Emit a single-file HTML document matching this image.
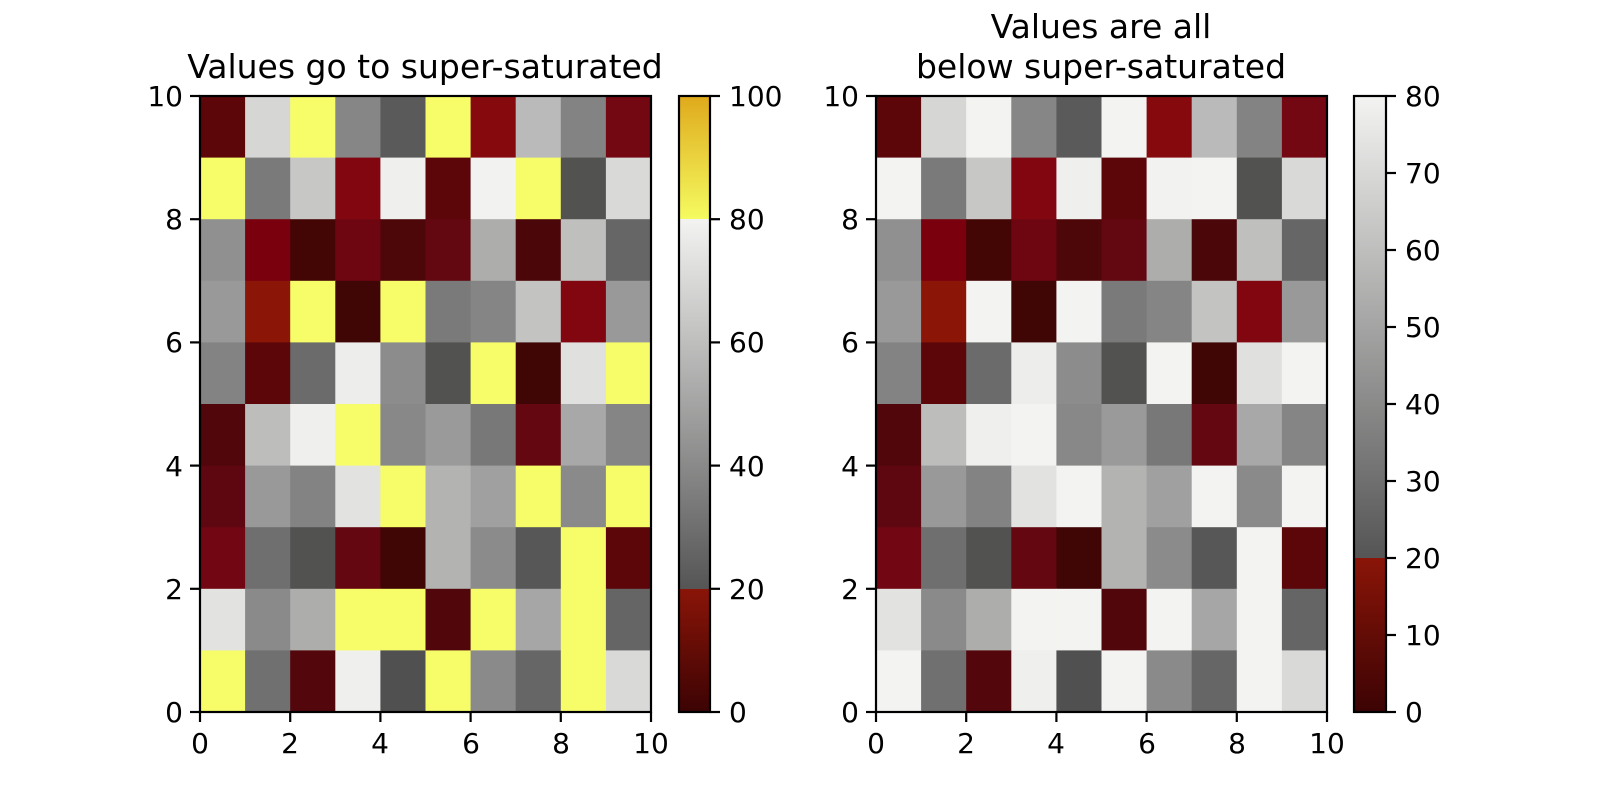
<!DOCTYPE html>
<html><head><meta charset="utf-8"><style>
html,body{margin:0;padding:0;background:#fff;width:1600px;height:800px;overflow:hidden}
text{font-family:"DejaVu Sans","Liberation Sans",sans-serif;fill:#000}
</style></head><body>
<svg id="s" width="1600" height="800" viewBox="0 0 1600 800" xmlns="http://www.w3.org/2000/svg">
<defs>
<linearGradient id="g1" x1="0" y1="0" x2="0" y2="1">
<stop offset="0" stop-color="#dfaa1c"/><stop offset="0.2" stop-color="#f5fb60"/>
<stop offset="0.2" stop-color="#f3f3f2"/><stop offset="0.8" stop-color="#555555"/>
<stop offset="0.8" stop-color="#8a1508"/><stop offset="1" stop-color="#3c0304"/>
</linearGradient>
<linearGradient id="g2" x1="0" y1="0" x2="0" y2="1">
<stop offset="0" stop-color="#f3f3f2"/><stop offset="0.75" stop-color="#555555"/>
<stop offset="0.75" stop-color="#8a1508"/><stop offset="1" stop-color="#3c0304"/>
</linearGradient>
</defs>
<g id="cells"></g>
<rect x="200" y="96" width="451" height="616" fill="none" stroke="#000" stroke-width="2.2"/>
<rect x="876" y="96" width="451" height="616" fill="none" stroke="#000" stroke-width="2.2"/>
<rect x="679" y="96" width="31" height="616" fill="url(#g1)" stroke="#000" stroke-width="2.2"/>
<rect x="1354" y="96" width="32" height="616" fill="url(#g2)" stroke="#000" stroke-width="2.2"/>
<g id="ticks" stroke="#000" stroke-width="2.2"></g>
<g font-size="28">
<g text-anchor="middle">
<text x="200" y="753">0</text><text x="290" y="753">2</text><text x="380" y="753">4</text><text x="471" y="753">6</text><text x="561" y="753">8</text><text x="651" y="753">10</text>
<text x="876" y="753">0</text><text x="966" y="753">2</text><text x="1056" y="753">4</text><text x="1147" y="753">6</text><text x="1237" y="753">8</text><text x="1327" y="753">10</text>
</g>
<g text-anchor="end">
<text x="183" y="722">0</text><text x="183" y="599">2</text><text x="183" y="476">4</text><text x="183" y="352">6</text><text x="183" y="229">8</text><text x="183" y="106">10</text>
<text x="859" y="722">0</text><text x="859" y="599">2</text><text x="859" y="476">4</text><text x="859" y="352">6</text><text x="859" y="229">8</text><text x="859" y="106">10</text>
</g>
<g text-anchor="start">
<text x="729" y="722">0</text><text x="729" y="599">20</text><text x="729" y="476">40</text><text x="729" y="352">60</text><text x="729" y="229">80</text><text x="729" y="106">100</text>
<text x="1405" y="722">0</text><text x="1405" y="645">10</text><text x="1405" y="568">20</text><text x="1405" y="491">30</text><text x="1405" y="414">40</text><text x="1405" y="337">50</text><text x="1405" y="260">60</text><text x="1405" y="183">70</text><text x="1405" y="106">80</text>
</g>
</g>
<g font-size="33" text-anchor="middle">
<text x="425" y="78">Values go to super-saturated</text>
<text x="1101" y="38">Values are all</text>
<text x="1101" y="78">below super-saturated</text>
</g>
</svg>
<script>
var Y='#f7fd69',W='#f3f3f1';
var L=[
['#5c0609','#d6d6d5',Y,'#868686','#5a5a5a',Y,'#860a0d','#bababa','#838383','#730712'],
[Y,'#7a7a7a','#c7c7c6','#820610','#efefed','#5c0609','#f2f2f0',Y,'#525250','#d9d9d8'],
['#909090','#7a000e','#440505','#6e0612','#4e0709','#630710','#adadab','#4a0608','#bfbfbe','#666666'],
['#999999','#8b1507',Y,'#400505',Y,'#7a7a7a','#858585','#c3c3c2','#82060f','#999999'],
['#838383','#5c0609','#6b6b6b','#ededeb','#8c8c8c','#525250',Y,'#400505','#e0e0df',Y],
['#50060a','#bdbdbc','#efefed',Y,'#888888','#9a9a9a','#787878','#650710','#a8a8a8','#858585'],
['#5e0710','#999999','#838383','#e2e2e1',Y,'#b3b3b2','#a0a0a0',Y,'#8a8a8a',Y],
['#720612','#6f6f6f','#525250','#650710','#400505','#b3b3b2','#8b8b8b','#575757',Y,'#5c0609'],
['#e2e2e1','#8a8a8a','#adadab',Y,Y,'#50060a',Y,'#a6a6a6',Y,'#656565'],
[Y,'#707070','#53060b','#efefed','#505050',Y,'#8a8a8a','#666666',Y,'#d9d9d8']];
var ns='http://www.w3.org/2000/svg',g=document.getElementById('cells'),cw=45.1,ch=61.6;
function r(x,y,w,h,c){var e=document.createElementNS(ns,'rect');e.setAttribute('x',x);e.setAttribute('y',y);e.setAttribute('width',w);e.setAttribute('height',h);e.setAttribute('fill',c);g.appendChild(e);}
for(var i=0;i<10;i++)for(var j=0;j<10;j++){var c=L[i][j];
r(200+j*cw,96+i*ch,cw+0.6,ch+0.6,c);
r(876+j*cw,96+i*ch,cw+0.6,ch+0.6,c==Y?W:c);}
var t=document.getElementById('ticks');
function ln(a,b,c,d){var e=document.createElementNS(ns,'line');e.setAttribute('x1',a);e.setAttribute('y1',b);e.setAttribute('x2',c);e.setAttribute('y2',d);t.appendChild(e);}
[200,876].forEach(function(x0){for(var k=0;k<=5;k++){var x=x0+k*90.2;ln(x,712,x,722);var y=712-k*123.2;ln(x0,y,x0-10,y);}});
for(var k=0;k<=5;k++){var y=712-k*123.2;ln(710,y,720,y);}
for(var k=0;k<=8;k++){var y=712-k*77;ln(1386,y,1396,y);}
</script>
</body></html>
